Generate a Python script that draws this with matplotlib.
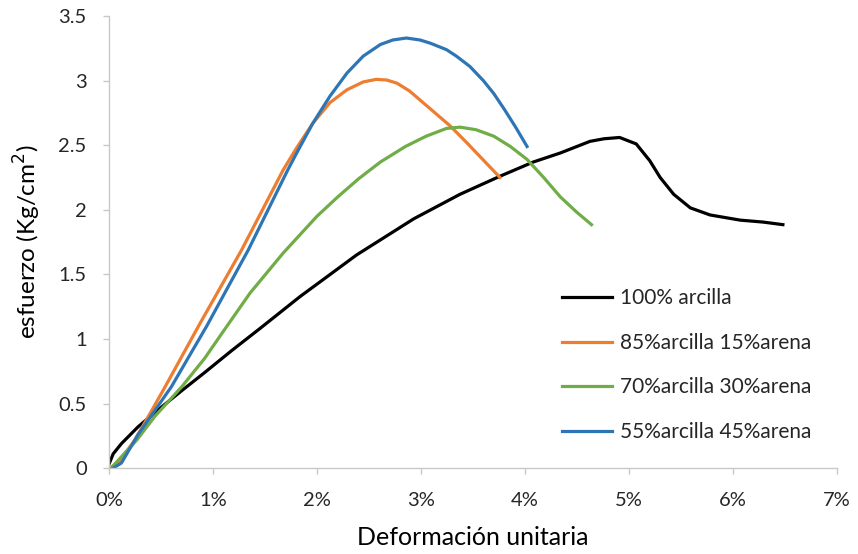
import matplotlib
matplotlib.use("Agg")
import matplotlib.pyplot as plt
from matplotlib.ticker import PercentFormatter, FormatStrFormatter

# deformación (%) y esfuerzo (Kg/cm2)
x_100 = [0, 0.04, 0.12, 0.28, 0.47, 0.70, 0.92, 1.18, 1.45, 1.84, 2.06, 2.38,
         2.93, 3.375, 3.76, 4.08, 4.34, 4.625, 4.76, 4.91, 5.07, 5.20, 5.30,
         5.43, 5.59, 5.78, 6.07, 6.29, 6.48]
y_100 = [0.03, 0.11, 0.19, 0.32, 0.45, 0.60, 0.74, 0.91, 1.08, 1.33, 1.46, 1.65,
         1.93, 2.12, 2.26, 2.37, 2.44, 2.53, 2.55, 2.56, 2.51, 2.38, 2.25,
         2.12, 2.015, 1.96, 1.92, 1.905, 1.885]

x_85 = [0.01, 0.10, 0.25, 0.40, 0.54, 0.875, 1.276, 1.676, 1.805, 1.96, 2.125,
        2.29, 2.445, 2.57, 2.67, 2.77, 2.89, 3.02, 3.15, 3.28, 3.44, 3.57, 3.76]
y_85 = [0, 0.05, 0.22, 0.43, 0.63, 1.12, 1.69, 2.31, 2.48, 2.67, 2.83,
        2.93, 2.99, 3.01, 3.005, 2.98, 2.92, 2.83, 2.74, 2.65, 2.52, 2.41, 2.25]

x_70 = [0.02, 0.27, 0.44, 0.70, 0.92, 1.083, 1.356, 1.676, 2.0, 2.2, 2.4,
        2.61, 2.85, 3.05, 3.245, 3.375, 3.53, 3.70, 3.86, 4.02, 4.18, 4.34,
        4.50, 4.64]
y_70 = [0, 0.22, 0.40, 0.63, 0.85, 1.04, 1.355, 1.666, 1.95, 2.10, 2.24,
        2.37, 2.49, 2.57, 2.63, 2.64, 2.62, 2.57, 2.49, 2.39, 2.25, 2.10,
        1.98, 1.885]

x_55 = [0.04, 0.12, 0.28, 0.60, 0.94, 1.34, 1.72, 1.805, 1.96, 2.125, 2.29,
        2.445, 2.61, 2.73, 2.86, 2.99, 3.09, 3.245, 3.34, 3.47, 3.60, 3.70,
        3.80, 3.91, 4.02]
y_55 = [0, 0.04, 0.26, 0.63, 1.10, 1.69, 2.31, 2.44, 2.67, 2.88, 3.06,
        3.19, 3.28, 3.315, 3.33, 3.315, 3.29, 3.24, 3.19, 3.11, 3.00, 2.90,
        2.78, 2.64, 2.49]

labels = ["100% arcilla", "85%arcilla 15%arena", "70%arcilla 30%arena",
          "55%arcilla 45%arena"]
colors = ["#000000", "#ED7D31", "#70AD47", "#2E75B6"]

plt.rcParams['font.family'] = ['Lato', 'DejaVu Sans']

fig = plt.figure(figsize=(8.58, 5.54), dpi=100)
ax = fig.add_axes([0.127, 0.155, 0.8485, 0.816])

series = [(x_100, y_100), (x_85, y_85), (x_70, y_70), (x_55, y_55)]
for (xs, ys), lab, col in zip(series, labels, colors):
    ax.plot(xs, ys, color=col, lw=2.3, label=lab, solid_joinstyle='round')

ax.set_xlim(0, 7)
ax.set_ylim(0, 3.5)
ax.set_xticks(range(0, 8))
ax.set_yticks([0, 0.5, 1, 1.5, 2, 2.5, 3, 3.5])
ax.xaxis.set_major_formatter(PercentFormatter(xmax=100, decimals=0))
ax.yaxis.set_major_formatter(FormatStrFormatter('%g'))

for side in ['top', 'right']:
    ax.spines[side].set_visible(False)
for side in ['left', 'bottom']:
    ax.spines[side].set_color('#C8C8C8')
    ax.spines[side].set_linewidth(1)

ax.tick_params(axis='both', colors='#C8C8C8', labelcolor='#262626',
               labelsize=14.5, length=4, width=1)
ax.tick_params(axis='x', pad=13)
ax.tick_params(axis='y', pad=12)

ax.set_xlabel("Deformación unitaria", fontsize=18, color='#000000')
ax.set_ylabel("esfuerzo (Kg/cm$^2$)", fontsize=17.5, color='#000000')
ax.xaxis.set_label_coords(0.5, -0.128)
ax.yaxis.set_label_coords(-0.09, 0.5)

ax.legend(loc='upper left', bbox_to_anchor=(0.622, 0.398), frameon=False,
          fontsize=15, handlelength=2.4, handletextpad=0.38,
          labelspacing=1.18, borderpad=0, borderaxespad=0,
          labelcolor='#262626')

fig.savefig("out.png", dpi=100)
